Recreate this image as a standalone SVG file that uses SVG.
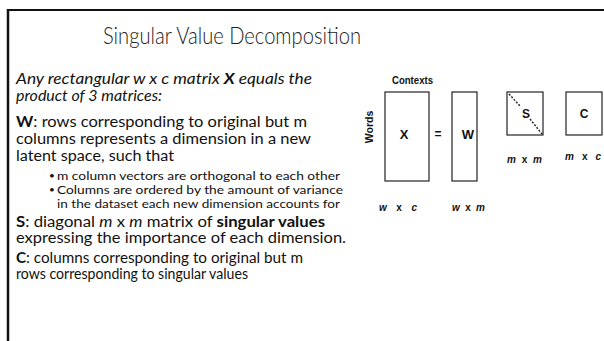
<svg xmlns="http://www.w3.org/2000/svg" width="604" height="341" viewBox="0 0 604 341">
  <style>
    .title { font-family: Lato, "Open Sans", sans-serif; font-weight: 300; font-size: 23.5px; fill: #222; }
    .body { font-family: Lato, "Open Sans", sans-serif; font-size: 14.5px; fill: #111; }
    .small { font-family: Lato, "Open Sans", sans-serif; font-size: 12px; fill: #111; }
    .dot { font-family: Lato, "Open Sans", sans-serif; font-size: 10px; fill: #111; }
    .it { font-style: italic; }
    .b { font-weight: bold; }
    .fig { font-family: "Liberation Sans", Arial, sans-serif; font-weight: bold; fill: #111; }
    .box { fill: #fff; stroke: #222; stroke-width: 1.2; }
    .frame { stroke: #111; fill: none; }
  </style>

  <rect width="604" height="341" fill="#fff"/>

  <!-- slide frame -->
  <g id="frame">
    <line class="frame" x1="7" y1="10" x2="604" y2="10" stroke-width="2"/>
    <line class="frame" x1="8" y1="9" x2="8" y2="341" stroke-width="2.5"/>
  </g>

  <!-- title -->
  <text class="title" x="103" y="44" textLength="258" lengthAdjust="spacingAndGlyphs">Singular Value Decomposition</text>

  <!-- body text -->
  <g id="body-text">
    <text class="body it" x="16" y="84" textLength="296" lengthAdjust="spacingAndGlyphs">Any rectangular w x c matrix <tspan class="b">X</tspan> equals the</text>
    <text class="body it" x="16" y="101" textLength="146" lengthAdjust="spacingAndGlyphs">product of 3 matrices:</text>

    <text class="body" x="16" y="127" textLength="291" lengthAdjust="spacingAndGlyphs"><tspan class="b">W</tspan>: rows corresponding to original but m</text>
    <text class="body" x="16" y="144" textLength="295" lengthAdjust="spacingAndGlyphs">columns represents a dimension in a new</text>
    <text class="body" x="16" y="161" textLength="158" lengthAdjust="spacingAndGlyphs">latent space, such that</text>

    <text class="dot" x="49" y="179">•</text>
    <text class="small" x="57" y="180" textLength="283" lengthAdjust="spacingAndGlyphs">m column vectors are orthogonal to each other</text>
    <text class="dot" x="49" y="193">•</text>
    <text class="small" x="57" y="194" textLength="286" lengthAdjust="spacingAndGlyphs">Columns are ordered by the amount of variance</text>
    <text class="small" x="57" y="208" textLength="283" lengthAdjust="spacingAndGlyphs">in the dataset each new dimension accounts for</text>

    <text class="body" x="16" y="227" textLength="309" lengthAdjust="spacingAndGlyphs"><tspan class="b">S</tspan>:  diagonal <tspan class="it">m</tspan> x <tspan class="it">m</tspan> matrix of <tspan class="b">singular values</tspan></text>
    <text class="body" x="16" y="243" textLength="330" lengthAdjust="spacingAndGlyphs">expressing the importance of each dimension.</text>
    <text class="body" x="16" y="263" textLength="287" lengthAdjust="spacingAndGlyphs"><tspan class="b">C</tspan>: columns corresponding to original but m</text>
    <text class="body" x="16" y="279" textLength="232" lengthAdjust="spacingAndGlyphs">rows corresponding to singular values</text>
  </g>

  <!-- axis labels -->
  <text class="fig" x="392" y="84" font-size="10.5" textLength="41" lengthAdjust="spacingAndGlyphs">Contexts</text>
  <text class="fig" font-size="10.5" transform="translate(373,127) rotate(-90)" text-anchor="middle">Words</text>

  <!-- matrix X -->
  <g id="matrix-x">
    <rect class="box" x="385" y="92" width="44" height="89"/>
    <text class="fig" x="404" y="139" font-size="13" text-anchor="middle">X</text>
    <text class="fig" x="379" y="211" font-size="10" textLength="38" lengthAdjust="spacing"><tspan font-style="italic">w</tspan> x <tspan font-style="italic">c</tspan></text>
  </g>

  <!-- equals sign -->
  <g id="equals">
    <text class="fig" x="438" y="138" font-size="12" text-anchor="middle">=</text>
  </g>

  <!-- matrix W -->
  <g id="matrix-w">
    <rect class="box" x="452" y="92" width="25" height="89"/>
    <text class="fig" x="468" y="139" font-size="13" text-anchor="middle">W</text>
    <text class="fig" x="452" y="211" font-size="10" textLength="33" lengthAdjust="spacing"><tspan font-style="italic">w</tspan> x <tspan font-style="italic">m</tspan></text>
  </g>

  <!-- matrix S (diagonal) -->
  <g id="matrix-s">
    <rect class="box" x="507" y="92" width="36" height="43"/>
    <line x1="509" y1="94" x2="520" y2="106" stroke="#222" stroke-width="1.4" stroke-dasharray="2 1.5"/>
    <line x1="530" y1="119" x2="542" y2="134" stroke="#222" stroke-width="1.4" stroke-dasharray="2 1.5"/>
    <text class="fig" x="526" y="118" font-size="12" text-anchor="middle">S</text>
    <text class="fig" x="507" y="163" font-size="10" textLength="35" lengthAdjust="spacing"><tspan font-style="italic">m</tspan> x <tspan font-style="italic">m</tspan></text>
  </g>

  <!-- matrix C -->
  <g id="matrix-c">
    <rect class="box" x="566" y="92" width="36" height="43"/>
    <text class="fig" x="584" y="118" font-size="12" text-anchor="middle">C</text>
    <text class="fig" x="565" y="160" font-size="10" textLength="36" lengthAdjust="spacing"><tspan font-style="italic">m</tspan> x <tspan font-style="italic">c</tspan></text>
  </g>
</svg>
